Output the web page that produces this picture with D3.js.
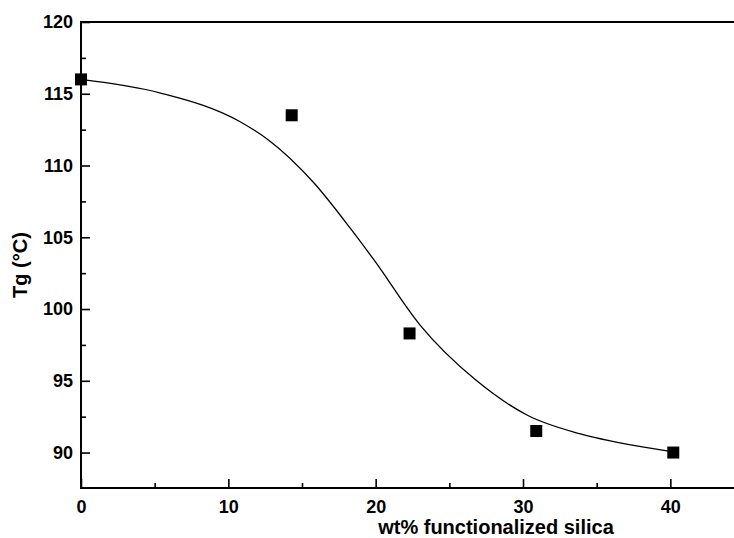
<!DOCTYPE html>
<html><head><meta charset="utf-8">
<script src="https://cdn.jsdelivr.net/npm/d3@7"></script>
<style>
html,body{margin:0;padding:0;background:#fff;}
svg{display:block;}
text{font-family:"Liberation Sans",Arial,sans-serif;font-weight:bold;fill:#000;}
</style></head>
<body>
<svg id="chart" width="734" height="538"></svg>
<script>
// Measured data points
const wtPercent = [0, 14.3, 22.3, 30.9, 40.2];
const tgValues  = [116.0, 113.5, 98.3, 91.5, 90.0];

// Fitted curve, points
const fitX = [0, 5.4, 10.8, 12.7, 15.8, 18.3, 19.9, 23.0, 26.8, 30.3, 33.9, 37.5, 40.2];
const fitY = [116.0, 115.05, 113.05, 111.8, 108.8, 105.6, 103.4, 98.9, 95.05, 92.6, 91.3, 90.5, 90.05];

const xMajorTicks = [0, 10, 20, 30, 40];
const xMinorTicks = [5, 15, 25, 35];
const yMajorTicks = [90, 95, 100, 105, 110, 115, 120];
const yMinorTicks = [92.5, 97.5, 102.5, 107.5, 112.5, 117.5];

const xTitle = "wt% functionalized silica";
const yTitle = "Tg (°C)";

const svg = d3.select("#chart");
const x = d3.scaleLinear().domain([0, 45]).range([81, 744]);
const y = d3.scaleLinear().domain([87.53, 120]).range([488, 22]);

const axisG = svg.append("g");

// Bottom axis (ticks inward)
const bottom = axisG.append("g").attr("transform", "translate(0,488)");
bottom.call(d3.axisBottom(x).tickValues(xMajorTicks).tickSize(-9).tickPadding(12).tickFormat(d3.format("d")));
bottom.append("g").call(d3.axisBottom(x).tickValues(xMinorTicks).tickSize(-5).tickFormat(""));
bottom.selectAll(".domain").remove();
bottom.append("line").attr("x1", x(0) - 1).attr("x2", 734).attr("y1", 0).attr("y2", 0)
  .attr("stroke", "#000").attr("stroke-width", 2);

// Left axis
const left = axisG.append("g").attr("transform", "translate(81,0)");
left.call(d3.axisLeft(y).tickValues(yMajorTicks).tickSize(-9).tickPadding(8).tickFormat(d3.format("d")));
left.append("g").call(d3.axisLeft(y).tickValues(yMinorTicks).tickSize(-5).tickFormat(""));
left.selectAll(".domain").remove();
left.append("line").attr("x1", 0).attr("x2", 0).attr("y1", 21).attr("y2", 489)
  .attr("stroke", "#000").attr("stroke-width", 2);

// Top axis line
axisG.append("line").attr("x1", 80).attr("x2", 734).attr("y1", 22).attr("y2", 22)
  .attr("stroke", "#000").attr("stroke-width", 2);

axisG.selectAll(".tick line").attr("stroke", "#000").attr("stroke-width", 1.6);
axisG.selectAll(".tick text").style("font-size", "18px").style("font-family", "'Liberation Sans',Arial,sans-serif").style("font-weight", "bold");

// Fit curve
const fitData = fitX.map((d, i) => [d, fitY[i]]);
svg.append("path")
  .datum(fitData)
  .attr("fill", "none")
  .attr("stroke", "#000")
  .attr("stroke-width", 1.3)
  .attr("d", d3.line().x(d => x(d[0])).y(d => y(d[1])).curve(d3.curveMonotoneX));

// Markers
const sz = 12;
svg.append("g").selectAll("rect")
  .data(wtPercent.map((d, i) => [d, tgValues[i]]))
  .join("rect")
  .attr("x", d => x(d[0]) - sz / 2)
  .attr("y", d => y(d[1]) - sz / 2)
  .attr("width", sz).attr("height", sz)
  .attr("fill", "#000");

// Titles
svg.append("text")
  .attr("x", 496).attr("y", 534)
  .attr("text-anchor", "middle")
  .style("font-size", "20px")
  .text(xTitle);

svg.append("text")
  .attr("transform", "translate(27,265) rotate(-90)")
  .attr("text-anchor", "middle")
  .style("font-size", "20px")
  .text(yTitle);
</script>
</body></html>
